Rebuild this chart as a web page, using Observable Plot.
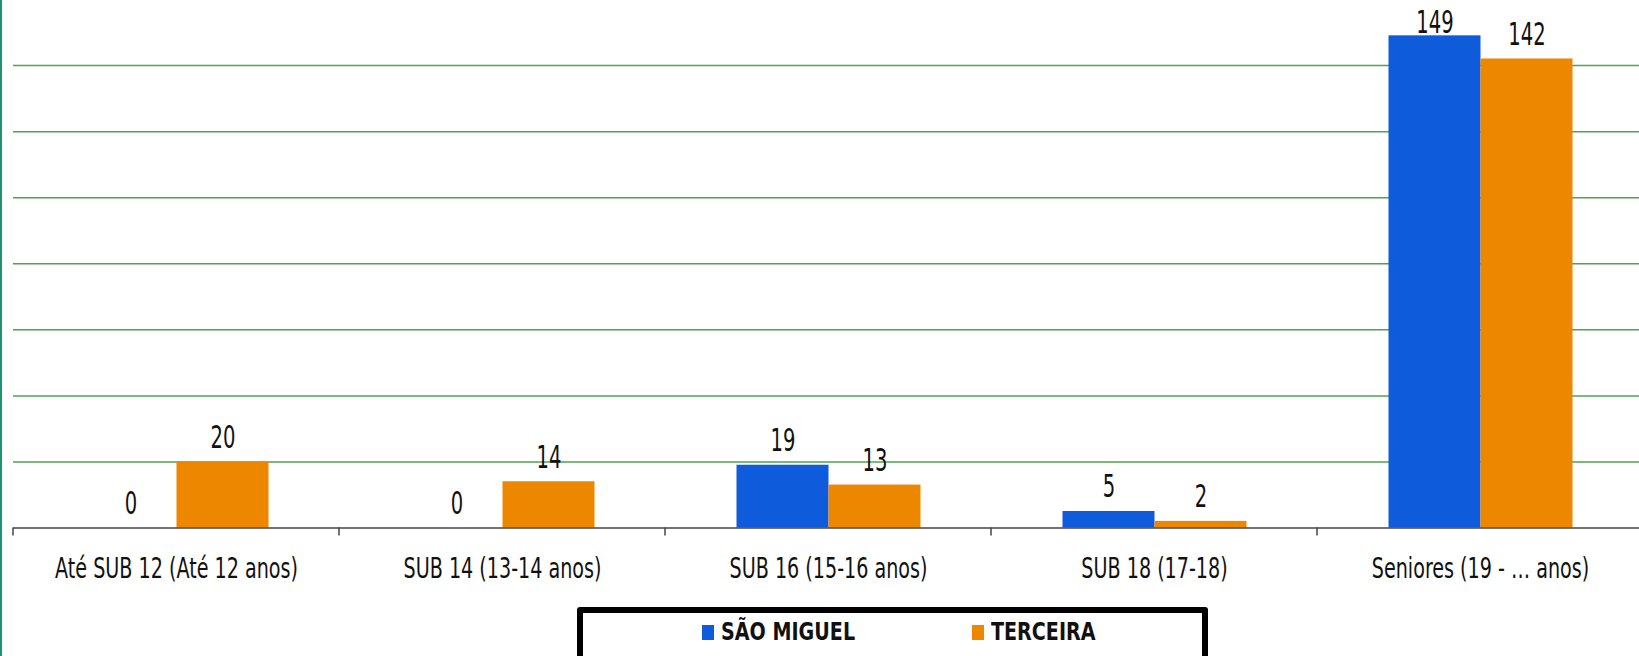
<!DOCTYPE html>
<html>
<head>
<meta charset="utf-8">
<script src="https://cdn.jsdelivr.net/npm/d3@7"></script>
<script src="https://cdn.jsdelivr.net/npm/@observablehq/plot@0.6"></script>
<style>
  html, body { margin: 0; padding: 0; background: #fff; overflow: hidden; }
  #wrap { position: relative; width: 1639px; height: 656px; overflow: hidden; background: #fff; }
  #leftline { position: absolute; left: 0; top: 0; width: 2px; height: 656px; background: #1f8f6f; }
  #chart { position: absolute; left: 0; top: 0; width: 1645px; }
  #legend {
    position: absolute; left: 577px; top: 607px; width: 619px; height: 60px;
    border: 6px solid #000; border-radius: 3px; box-sizing: content-box;
    font-family: "DejaVu Sans Condensed", "DejaVu Sans", sans-serif;
    font-weight: bold; font-size: 25px; color: #111;
  }
  #legend .item { position: absolute; top: 4px; height: 30px; line-height: 30px; white-space: nowrap; }
  #legend .sw { position: absolute; left: 0; top: 8px; width: 12px; height: 15px; }
  #legend .lbl { position: absolute; left: 19px; top: 0; transform: scaleX(0.85); transform-origin: left center; }
</style>
</head>
<body>
<div id="wrap">
  <div id="chart"></div>
  <div id="leftline"></div>
  <div id="legend"></div>
</div>
<script>
const categories = ["Até SUB 12 (Até 12 anos)", "SUB 14 (13-14 anos)", "SUB 16 (15-16 anos)", "SUB 18 (17-18)", "Seniores (19 - … anos)"];
const seriesNames = ["SÃO MIGUEL", "TERCEIRA"];
const saoMiguel = [0, 0, 19, 5, 149];
const terceira = [20, 14, 13, 2, 142];
const gridTicks = [20, 40, 60, 80, 100, 120, 140];
const colors = ["#0e5bdb", "#ee8700"];

const rows = categories.flatMap((c, i) => [
  {category: c, series: seriesNames[0], value: saoMiguel[i]},
  {category: c, series: seriesNames[1], value: terceira[i]}
]);

const FONT = '"DejaVu Sans Condensed", "DejaVu Sans", sans-serif';

const plot = Plot.plot({
  width: 1645,
  height: 600,
  marginLeft: 10.5,
  marginRight: 0,
  marginTop: 0,
  marginBottom: 72.5,
  style: {fontFamily: FONT, background: "transparent", overflow: "visible", maxWidth: "none"},
  fx: {domain: categories, padding: 0, label: null},
  x: {domain: seriesNames, paddingInner: 0, paddingOuter: 0.754, axis: null},
  y: {domain: [0, 160], range: [527.5, -1], axis: null},
  color: {domain: seriesNames, range: colors},
  marks: [
    Plot.gridY(gridTicks, {stroke: "#4fa34f", strokeOpacity: 1, strokeWidth: 1.5}),
    Plot.barY(rows, {fx: "category", x: "series", y: "value", fill: "series"}),
    Plot.text(rows.filter(d => d.value < 145), {fx: "category", x: "series", y: "value", text: d => String(d.value),
      lineAnchor: "bottom", dy: -14, fontSize: 32, fill: "#111", className: "vals"}),
    Plot.text(rows.filter(d => d.value >= 145), {fx: "category", x: "series", y: "value", text: d => String(d.value),
      lineAnchor: "bottom", dy: -3, fontSize: 32, fill: "#111", className: "vals"}),
    Plot.ruleY([0], {stroke: "#444", strokeWidth: 1.5}),
    Plot.axisFx({anchor: "bottom", tickSize: 0, tickPadding: 30, fontSize: 28, fill: "#111", label: null, className: "cats"})
  ]
});

document.getElementById("chart").appendChild(plot);

// narrow the glyphs horizontally (condensed look), keeping text as text
function condense(sel, sx) {
  d3.select(plot).selectAll(sel).each(function () {
    const t = d3.select(this);
    let tr = t.attr("transform");
    if (!tr) {
      const x = +t.attr("x") || 0, y = +t.attr("y") || 0;
      tr = `translate(${x},${y})`;
      t.attr("x", null).attr("y", null);
    }
    t.attr("transform", `${tr} scale(${sx},1)`);
  });
}
condense(".vals text", 0.68);
condense(".cats text", 0.76);

// boundary ticks between category bands, from the fx scale
const fx = plot.scale("fx");
const yS = plot.scale("y");
const y0 = yS.apply(0);
const svg = d3.select(plot);
const bounds = categories.map(c => fx.apply(c));
svg.append("g").selectAll("line").data(bounds).join("line")
  .attr("x1", d => d).attr("x2", d => d)
  .attr("y1", y0).attr("y2", y0 + 8)
  .attr("stroke", "#444").attr("stroke-width", 1.5);

// legend
const legendLefts = [119, 389];
const legend = d3.select("#legend");
seriesNames.forEach((s, i) => {
  const it = legend.append("div").attr("class", "item").style("left", legendLefts[i] + "px");
  it.append("span").attr("class", "sw").style("background", colors[i]);
  it.append("span").attr("class", "lbl").text(s);
});
</script>
</body>
</html>
